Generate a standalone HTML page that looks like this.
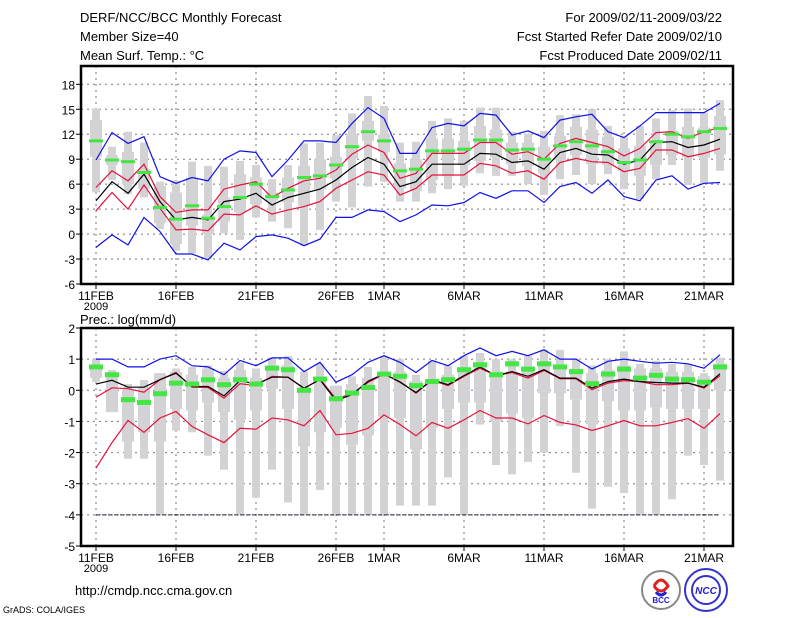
<!DOCTYPE html>
<html><head><meta charset="utf-8"><style>
html,body{margin:0;padding:0;background:#fff;}
svg{display:block;font-family:"Liberation Sans",sans-serif;}
</style></head><body>
<svg id="chart" width="800" height="618" viewBox="0 0 800 618">
<g font-size="13" fill="#000">
<text x="80" y="22">DERF/NCC/BCC Monthly Forecast</text>
<text x="80" y="41">Member Size=40</text>
<text x="80" y="60">Mean Surf. Temp.: °C</text>
<text x="722" y="22" text-anchor="end">For 2009/02/11-2009/03/22</text>
<text x="722" y="41" text-anchor="end">Fcst Started Refer Date 2009/02/10</text>
<text x="722" y="60" text-anchor="end">Fcst Produced Date 2009/02/11</text>
<text x="80" y="324">Prec.: log(mm/d)</text>
<text x="75" y="595">http://cmdp.ncc.cma.gov.cn</text>
<text x="3" y="613" font-size="9">GrADS: COLA/IGES</text>
</g>
<g>
<circle cx="661" cy="590" r="19" fill="#fff" stroke="#888" stroke-width="2"/>
<path d="M654 586 q7 -12 14 0 q-7 10 -14 0" fill="none" stroke="#d22" stroke-width="3"/>
<path d="M656 592 q5 6 10 0" fill="none" stroke="#22c" stroke-width="3"/>
<text x="661" y="603" font-size="8" text-anchor="middle" fill="#22c" font-weight="bold">BCC</text>
</g>
<g>
<circle cx="706" cy="590" r="21" fill="#fff" stroke="#33c" stroke-width="2"/>
<circle cx="706" cy="590" r="14" fill="none" stroke="#33c" stroke-width="2"/>
<text x="706" y="594" font-size="10" text-anchor="middle" fill="#22c" font-weight="bold" font-style="italic">NCC</text>
</g>
<g id="top"></g>
<g id="bot"></g>
</svg>
<script>
// Temperature panel data (40 days, 11FEB..22MAR)
const tBlueHi=[8.9,12.2,10.9,11.7,6.9,6.1,6.8,6.4,9.0,10.0,9.8,6.9,8.9,11.2,11.2,11.0,13.3,15.2,13.9,9.7,9.7,12.8,13.3,13.0,14.5,14.3,11.9,12.4,11.6,13.7,14.1,14.4,12.3,11.6,13.0,14.6,14.6,14.6,14.6,15.7];
const tBlueLo=[-1.6,-0.1,-1.3,2.0,0.3,-2.4,-2.4,-3.1,-1.1,-1.9,-0.3,-0.1,-0.5,-1.4,-0.6,2.0,2.0,2.9,2.7,1.5,2.3,3.5,3.4,3.8,5.0,4.3,5.2,5.2,3.8,5.7,6.2,4.9,6.5,4.5,4.0,6.5,7.0,5.4,6.1,6.2];
const tRedHi=[5.6,7.6,6.4,8.4,4.5,2.6,2.9,2.9,5.4,5.9,6.3,4.4,5.5,6.4,6.7,7.7,9.6,10.7,9.8,6.7,7.3,9.7,9.7,9.7,11.0,11.0,9.6,9.9,9.0,10.9,11.5,11.0,10.5,9.4,10.3,12.2,12.3,11.5,12.3,12.8];
const tMean=[4.0,6.3,4.9,7.2,3.9,1.7,2.0,1.7,3.9,4.2,4.9,3.5,4.4,4.9,5.4,6.5,8.0,9.2,8.4,5.7,6.3,8.4,8.4,8.4,9.7,9.6,8.6,8.8,7.8,9.8,10.3,9.6,9.5,8.4,8.9,11.0,11.1,10.4,10.7,11.4];
const tRedLo=[2.8,5.0,3.0,5.9,3.1,0.5,0.6,0.4,2.4,2.3,3.4,2.4,2.9,3.3,3.9,5.5,6.5,7.5,7.1,4.7,5.5,7.1,7.1,7.1,8.5,8.2,7.3,7.6,6.6,8.6,9.1,8.7,8.6,7.5,7.9,10.1,10.1,9.3,9.7,10.3];
const tGreen=[11.2,8.9,8.7,7.4,3.2,1.8,3.4,1.9,3.3,4.4,6.0,4.5,5.3,6.8,7.0,8.3,10.5,12.3,11.2,7.6,7.8,10.0,10.0,10.2,11.3,11.3,10.1,10.2,9.0,10.6,11.1,10.6,9.9,8.6,8.9,11.1,12.0,11.7,12.3,12.7];
const tOutHi=[15.1,10.5,12.3,11.0,6.3,6.4,8.7,8.2,8.1,8.8,8.3,6.6,8.3,10.9,11.0,11.9,14.5,16.6,15.4,11.0,11.1,13.6,13.9,13.6,15.2,15.2,12.3,12.1,12.4,14.3,14.4,15.0,13.0,11.7,13.0,13.9,14.9,15.1,14.6,16.1];
const tOutLo=[5.0,6.5,4.8,4.4,0.6,-2.0,-2.3,-3.0,0.1,-0.7,2.0,1.5,0.7,-1.4,0.5,3.9,3.2,5.7,6.3,3.9,3.9,4.9,5.4,5.8,7.3,7.0,7.0,6.0,4.7,6.6,7.1,6.0,7.2,5.4,4.2,6.6,8.3,5.9,6.0,7.6];
const tInHi=[13.7,9.5,9.9,7.8,5.8,5.0,6.8,2.3,4.4,7.2,6.8,5.0,6.8,8.2,9.0,9.3,12.0,13.6,12.0,8.5,9.0,11.5,11.5,11.2,13.0,12.6,11.0,11.0,10.5,11.8,12.9,12.6,11.7,10.3,10.6,11.2,12.4,12.9,12.8,14.2];
const tInLo=[9.3,8.3,6.0,5.4,1.3,-1.2,1.0,0.0,1.5,2.6,3.6,4.0,3.8,3.4,5.4,6.7,9.1,11.2,9.9,5.5,5.2,6.5,7.0,8.3,8.8,9.2,8.4,8.2,7.3,8.9,9.5,8.4,8.3,7.6,7.0,8.3,9.5,9.2,9.2,9.6];
// Precipitation panel data
const pBlueHi=[1.0,1.0,0.75,0.75,1.0,1.11,0.79,0.75,0.5,0.96,0.79,1.04,1.04,0.6,0.9,0.26,0.5,0.9,1.11,0.9,0.57,0.96,0.79,1.11,1.36,1.11,1.25,1.11,1.3,1.0,1.0,0.68,0.93,1.0,0.93,0.87,0.9,0.85,0.71,1.14];
const pRedHi=[-0.22,0.08,0.05,-0.06,0.34,0.57,0.1,0.09,-0.25,0.21,0.15,0.45,0.42,0.05,0.36,-0.27,-0.11,0.25,0.52,0.28,-0.09,0.32,0.15,0.45,0.71,0.47,0.57,0.39,0.64,0.37,0.37,0.02,0.23,0.31,0.28,0.18,0.18,0.23,0.07,0.47];
const pMean=[0.2,0.32,0.1,0.1,0.34,0.55,0.12,0.12,-0.18,0.31,0.2,0.42,0.42,0.07,0.34,-0.33,-0.14,0.29,0.53,0.26,-0.07,0.34,0.18,0.47,0.75,0.47,0.6,0.45,0.66,0.39,0.39,0.07,0.28,0.36,0.28,0.25,0.23,0.23,0.1,0.53];
const pRedLo=[-2.5,-1.68,-0.97,-1.35,-0.89,-0.68,-1.16,-1.43,-1.68,-1.22,-1.25,-0.89,-0.95,-1.14,-0.65,-1.43,-1.38,-1.22,-0.79,-1.1,-1.46,-1.03,-1.22,-0.95,-0.65,-0.89,-0.89,-1.08,-0.81,-1.03,-1.11,-1.29,-1.14,-0.97,-1.14,-1.14,-1.03,-0.91,-1.22,-0.75];
const pGreen=[0.75,0.5,-0.3,-0.39,-0.11,0.23,0.2,0.34,0.18,0.34,0.2,0.71,0.66,0.0,0.36,-0.27,-0.09,0.09,0.52,0.45,0.15,0.28,0.34,0.66,0.82,0.5,0.85,0.68,0.85,0.75,0.6,0.21,0.52,0.68,0.39,0.48,0.36,0.34,0.26,0.75];
const pOutHi=[1.0,0.65,0.2,0.33,0.55,0.7,0.75,0.8,0.62,0.9,0.7,1.05,1.1,0.6,0.85,0.15,0.45,0.75,1.1,1.0,0.5,0.95,0.8,1.1,1.2,1.0,1.0,1.1,1.3,1.3,1.0,0.8,1.0,1.25,0.85,0.95,0.85,0.85,0.55,1.05];
const pOutLo=[0.27,-0.7,-2.2,-2.2,-4.0,-1.3,-1.35,-2.1,-2.55,-4.0,-3.45,-2.55,-3.6,-4.0,-3.2,-4.0,-4.0,-4.0,-4.0,-3.7,-3.7,-3.7,-2.8,-4.0,-1.1,-2.4,-2.7,-2.3,-2.0,-1.15,-2.65,-3.8,-3.1,-3.3,-4.0,-4.0,-3.5,-2.1,-2.4,-2.9];
const pInHi=[0.75,0.55,0.0,0.1,0.55,0.6,0.5,0.7,0.4,0.65,0.4,0.8,0.8,0.1,0.4,0.15,0.2,0.4,0.6,0.6,0.3,0.3,0.5,0.7,0.8,0.6,0.6,0.7,0.8,0.8,0.6,0.55,0.65,0.8,0.7,0.7,0.6,0.6,0.45,0.85];
const pInLo=[0.4,-0.7,-1.65,-1.35,-1.65,-0.6,-0.65,-0.4,-0.7,-0.95,-0.65,0.05,-0.6,-1.8,-1.35,-1.2,-1.75,-1.45,-0.85,-0.9,-1.9,-1.2,-0.6,-0.4,-0.4,-1.0,-0.75,-0.9,-0.1,-0.1,-0.3,-1.1,-0.35,-0.65,-0.65,-0.55,-0.6,-0.6,-0.6,0.0];
const xTickDays=[0,5,10,15,18,23,28,33,38];
const xTickLabels=["11FEB","16FEB","21FEB","26FEB","1MAR","6MAR","11MAR","16MAR","21MAR"];
const tTicks=[-6,-3,0,3,6,9,12,15,18];
const pTicks=[-5,-4,-3,-2,-1,0,1,2];

const NS="http://www.w3.org/2000/svg";
function mk(parent,tag,attrs){const e=document.createElementNS(NS,tag);for(const k in attrs)e.setAttribute(k,attrs[k]);parent.appendChild(e);return e;}
const xs=d=>96+16*d;
const L=81,R=733;

function panel(g,top,bottom,vmin,vmax,ticks,s){
  const ys=v=>bottom-(v-vmin)/(vmax-vmin)*(bottom-top);
  // grid
  ticks.forEach(t=>{
    if(t>vmin&&t<vmax){const l=mk(g,'line',{x1:L,x2:R,y1:ys(t),y2:ys(t),stroke:'#777','stroke-dasharray':'2,4','stroke-width':1});
    
    }
    const tx=mk(g,'text',{x:75,y:ys(t)+5,'text-anchor':'end','font-size':12});
    tx.textContent=t;
    
    
    mk(g,'line',{x1:L-5,x2:L,y1:ys(t),y2:ys(t),stroke:'#000'});
  });
  xTickDays.forEach((d,i)=>{
    const l=mk(g,'line',{x1:xs(d),x2:xs(d),y1:top,y2:bottom,stroke:'#777','stroke-dasharray':'2,4'});
    
    
    mk(g,'line',{x1:xs(d),x2:xs(d),y1:bottom,y2:bottom+5,stroke:'#000'});
    const tx=mk(g,'text',{x:xs(d),y:bottom+16,'text-anchor':'middle','font-size':12});
    tx.textContent=xTickLabels[i];
    
    
  });
  const yr=mk(g,'text',{x:xs(0),y:bottom+26,'text-anchor':'middle','font-size':11});
  yr.textContent='2009';
  
  
  // boxes
  for(let i=0;i<40;i++){
    const x=xs(i);
    const o=mk(g,'rect',{x:x-4,y:ys(s.oh[i]),width:8,height:Math.max(1,ys(s.ol[i])-ys(s.oh[i])),fill:'#d3d3d6'});
    
    
    const b=mk(g,'rect',{x:x-6,y:ys(s.ih[i]),width:12,height:Math.max(1,ys(s.il[i])-ys(s.ih[i])),fill:'#d3d3d6'});
    
    
  }
  if(s.floor!==undefined){
    const f=mk(g,'line',{x1:xs(0),x2:xs(39),y1:ys(s.floor),y2:ys(s.floor),stroke:'#223','stroke-dasharray':'4,2'});
    
    
  }
  const line=(arr,col,name)=>{
    const p=mk(g,'polyline',{points:arr.map((v,i)=>xs(i)+','+ys(v).toFixed(1)).join(' '),fill:'none',stroke:col,'stroke-width':1.2});
    
    
  };
  if(s.bl)line(s.bl,'#1010e8','min-line');
  line(s.bh,'#1010e8','max-line');
  line(s.rl,'#e8103c','lower-red-line');
  line(s.rh,'#e8103c','upper-red-line');
  line(s.m,'#000','ensemble-mean-line');
  for(let i=0;i<40;i++){
    const r=mk(g,'rect',{x:xs(i)-7,y:ys(s.gr[i])-s.gh/2,width:14,height:s.gh,fill:'#44e644'});
    
    
  }
  const fr=mk(g,'rect',{x:L,y:top,width:R-L,height:bottom-top,fill:'none',stroke:'#000','stroke-width':2.5});
  
  
}
const gt=document.getElementById('top');


const gb=document.getElementById('bot');


panel(gt,66,284,-6,20.2,tTicks,{oh:tOutHi,ol:tOutLo,ih:tInHi,il:tInLo,bh:tBlueHi,bl:tBlueLo,rh:tRedHi,rl:tRedLo,m:tMean,gr:tGreen,gh:3});
panel(gb,328,546,-5,2,pTicks,{oh:pOutHi,ol:pOutLo,ih:pInHi,il:pInLo,bh:pBlueHi,rh:pRedHi,rl:pRedLo,m:pMean,gr:pGreen,gh:5,floor:-4});
</script>
</body></html>
